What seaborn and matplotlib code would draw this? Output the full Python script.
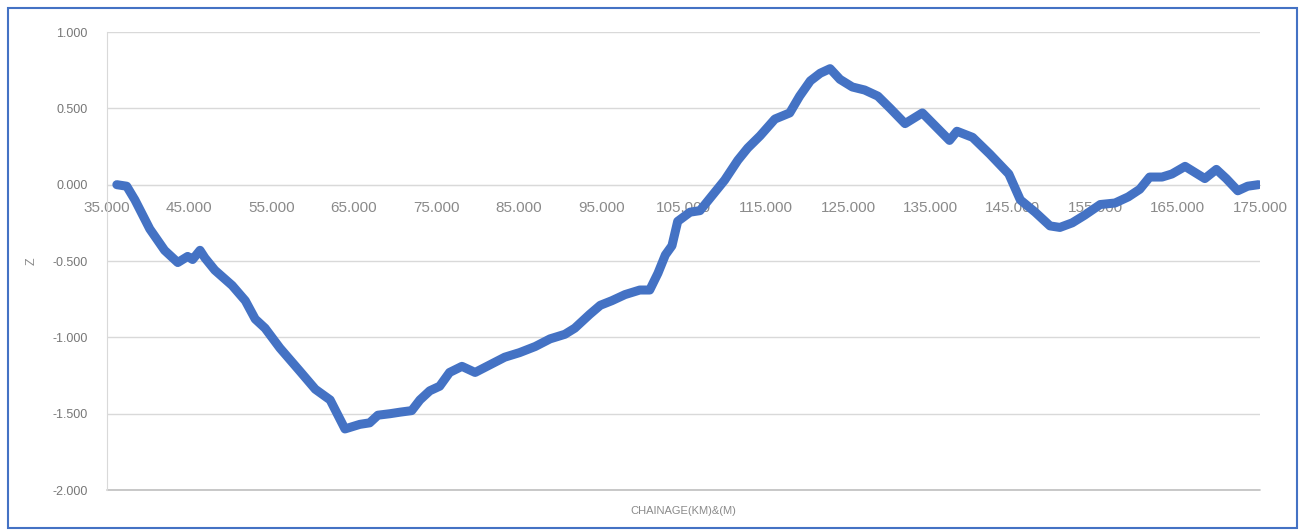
import pandas as pd
import matplotlib.pyplot as plt
import matplotlib.patches as patches
from matplotlib.ticker import FormatStrFormatter
import seaborn as sns

# chainage (km) vs Z
chainage = [36.2, 37.4, 38.4, 40.2, 42.0, 43.6, 44.8, 45.4, 46.3, 46.9, 48.1, 50.2,
            51.8, 53.0, 54.2, 56.0, 58.4, 60.3, 62.1, 63.9, 65.7, 66.9, 67.9, 69.4,
            70.6, 72.0, 73.0, 74.2, 75.4, 76.6, 78.1, 79.7, 81.5, 83.3, 85.1, 87.0,
            88.8, 90.6, 91.8, 93.6, 94.9, 96.3, 97.9, 99.7, 100.9, 101.9, 102.8, 103.6,
            104.3, 105.8, 107.0, 108.5, 110.0, 111.6, 112.8, 114.3, 116.1, 117.9, 119.1,
            120.4, 121.6, 122.8, 124.0, 125.5, 127.0, 128.6, 130.1, 131.9, 134.0, 137.3,
            138.2, 140.1, 142.2, 144.5, 145.9, 147.7, 149.5, 150.7, 152.2, 153.7, 155.6,
            157.4, 159.0, 160.4, 161.6, 163.1, 164.3, 165.9, 167.1, 168.3, 169.7, 170.9,
            172.3, 173.5, 174.8]
z = [0.00, -0.01, -0.10, -0.29, -0.43, -0.51, -0.47, -0.49, -0.43, -0.48, -0.56, -0.66,
     -0.76, -0.88, -0.94, -1.07, -1.22, -1.34, -1.41, -1.60, -1.57, -1.56, -1.51, -1.50,
     -1.49, -1.48, -1.41, -1.35, -1.32, -1.23, -1.19, -1.23, -1.18, -1.13, -1.10, -1.06,
     -1.01, -0.98, -0.94, -0.85, -0.79, -0.76, -0.72, -0.69, -0.69, -0.58, -0.46, -0.40,
     -0.24, -0.18, -0.17, -0.07, 0.03, 0.16, 0.24, 0.32, 0.43, 0.47, 0.58,
     0.68, 0.73, 0.76, 0.69, 0.64, 0.62, 0.58, 0.50, 0.40, 0.47, 0.29,
     0.35, 0.31, 0.20, 0.07, -0.10, -0.18, -0.27, -0.28, -0.25, -0.20, -0.13,
     -0.12, -0.08, -0.03, 0.05, 0.05, 0.07, 0.12, 0.08, 0.04, 0.10, 0.04,
     -0.04, -0.01, 0.00]

x_ticks = list(range(35, 176, 10))
y_ticks = [-2.0, -1.5, -1.0, -0.5, 0.0, 0.5, 1.0]

df = pd.DataFrame({'chainage': chainage, 'z': z})

sns.set_style('white')
plt.rcParams['font.family'] = ['Liberation Sans', 'DejaVu Sans']

fig = plt.figure(figsize=(13.01, 5.31), dpi=100)
ax = fig.add_axes([0.0822, 0.0772, 0.8863, 0.8625])

sns.lineplot(data=df, x='chainage', y='z', ax=ax, color='#4472C4', linewidth=6.5,
             solid_capstyle='round', solid_joinstyle='round', zorder=3)

ax.set_xlim(35, 175)
ax.set_ylim(-2.0, 1.0)
ax.set_xticks(x_ticks)
ax.set_yticks(y_ticks)
ax.xaxis.set_major_formatter(FormatStrFormatter('%.3f'))
ax.yaxis.set_major_formatter(FormatStrFormatter('%.3f'))
ax.grid(axis='y', color='#d9d9d9', linewidth=1)
ax.grid(axis='x', visible=False)
ax.axhline(-2.0, color='#bfbfbf', linewidth=1.2, clip_on=False, zorder=2)

ax.spines['bottom'].set_position(('data', 0))
ax.spines['bottom'].set_color('#d9d9d9')
ax.spines['left'].set_color('#d9d9d9')
ax.spines['top'].set_visible(False)
ax.spines['right'].set_visible(False)
ax.tick_params(axis='x', length=0, pad=12, labelsize=11, labelcolor='#8a8a8a')
ax.tick_params(axis='y', length=0, pad=14, labelsize=9, labelcolor='#777777')

ax.set_xlabel('CHAINAGE(KM)&(M)', fontsize=8, color='#8a8a8a')
ax.xaxis.set_label_coords(0.5, -0.035)
ax.set_ylabel('Z', fontsize=9, color='#8a8a8a')
ax.yaxis.set_label_coords(-0.06, 0.5)

fig.patches.append(patches.Rectangle((8 / 1301, 3 / 531), 1289 / 1301, 520 / 531,
                                     transform=fig.transFigure, fill=False,
                                     edgecolor='#4472C4', linewidth=1.5))

plt.savefig('out.png', dpi=100)
